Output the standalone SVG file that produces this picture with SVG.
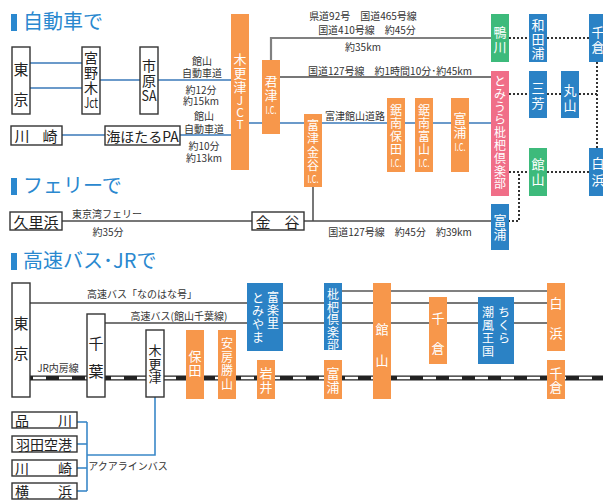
<svg xmlns="http://www.w3.org/2000/svg" width="603" height="502" viewBox="0 0 603 502">
<style>
text{font-family:"Noto Sans CJK JP","Noto Sans",sans-serif}
.box{fill:#fff;stroke:#333;stroke-width:1.4}
.or{fill:#f7974b}
.bl{fill:#2b82c5}
.gr{fill:#3dba7b}
.pk{fill:#f06e88}
.bk{fill:#222;font-size:15px;text-anchor:middle;dominant-baseline:central}
.bs{fill:#222;font-size:14px;text-anchor:middle;dominant-baseline:central}
.b13{fill:#222;font-size:13px;text-anchor:middle;dominant-baseline:central}
.wt{fill:#fff;font-size:12px;text-anchor:middle;dominant-baseline:central}
.wl{fill:#fff;font-size:13px;text-anchor:middle;dominant-baseline:central}
.ic{fill:#fff;font-size:11px;text-anchor:middle;dominant-baseline:central}
.lbl{fill:#333;font-size:10px;text-anchor:middle;dominant-baseline:central}
.hd{fill:#2a88cf;font-size:20px}
.hbar{fill:#2a88cf}
.exp{stroke:#3a78b8;stroke-width:1.6;fill:none}
.rd{stroke:#4a4a4a;stroke-width:1.5;fill:none}
.rg{stroke:#808080;stroke-width:2.2;fill:none}
.dot{stroke:#333;stroke-width:2;stroke-dasharray:2 2;fill:none}
.aq{stroke:#3a88c8;stroke-width:1.6;fill:none}
</style>

<!-- headers -->
<rect class="hbar" x="11" y="14" width="6" height="17"/>
<text class="hd" x="23" y="29">自動車で</text>
<rect class="hbar" x="11" y="178" width="6" height="17"/>
<text class="hd" x="23" y="193">フェリーで</text>
<rect class="hbar" x="11" y="253" width="6" height="17"/>
<text class="hd" x="23" y="268">高速バス･JRで</text>

<g id="connectors">
  <line class="exp" x1="30" y1="63" x2="82" y2="63"/>
  <line class="exp" x1="30" y1="88" x2="82" y2="88"/>
  <line class="exp" x1="100" y1="80" x2="140" y2="80"/>
  <line class="exp" x1="158" y1="80" x2="231" y2="80"/>
  <line class="exp" x1="62" y1="135" x2="105" y2="135"/>
  <line class="exp" x1="180" y1="135" x2="231" y2="135"/>
  <line class="exp" x1="249" y1="123" x2="491" y2="123"/>
  <polyline class="rg" points="271,60 271,38 491,38"/>
  <line class="rd" x1="280" y1="77" x2="491" y2="77"/>
  <line class="dot" x1="509" y1="38" x2="529" y2="38"/>
  <line class="dot" x1="547" y1="38" x2="589" y2="38"/>
  <line class="dot" x1="509" y1="94" x2="529" y2="94"/>
  <line class="dot" x1="547" y1="94" x2="561" y2="94"/>
  <line class="dot" x1="579" y1="94" x2="597" y2="94"/>
  <line class="dot" x1="597" y1="62" x2="597" y2="148"/>
  <line class="dot" x1="509" y1="172" x2="529" y2="172"/>
  <line class="dot" x1="547" y1="172" x2="589" y2="172"/>
  <polyline class="dot" points="509,172 519,172 519,221 509,221"/>
  <line class="rd" x1="62" y1="221" x2="252" y2="221"/>
  <line class="rd" x1="304" y1="221" x2="491" y2="221"/>
  <line class="rd" x1="313" y1="187" x2="313" y2="221"/>
  <line class="rd" x1="30" y1="303" x2="547" y2="303"/>
  <line class="rd" x1="105" y1="323" x2="547" y2="323"/>
  <line class="rg" x1="342" y1="291" x2="547" y2="291"/>
  <line x1="30" y1="378" x2="603" y2="378" stroke="#222" stroke-width="5"/>
  <line x1="30" y1="378" x2="603" y2="378" stroke="#fff" stroke-width="2.6" stroke-dasharray="13 13" stroke-dashoffset="-3"/>
  <line class="aq" x1="77" y1="422" x2="87" y2="422"/>
  <line class="aq" x1="77" y1="444" x2="87" y2="444"/>
  <line class="aq" x1="77" y1="468" x2="87" y2="468"/>
  <line class="aq" x1="77" y1="491" x2="87" y2="491"/>
  <line class="aq" x1="87" y1="422" x2="87" y2="491"/>
  <polyline class="aq" points="87,455 155,455 155,397"/>
</g>

<g id="labels">
  <text class="lbl" x="202" y="60">館山</text>
  <text class="lbl" x="202" y="72">自動車道</text>
  <text class="lbl" x="201" y="89">約12分</text>
  <text class="lbl" x="201" y="100">約15km</text>
  <text class="lbl" x="204" y="115">館山</text>
  <text class="lbl" x="204" y="128">自動車道</text>
  <text class="lbl" x="204" y="145">約10分</text>
  <text class="lbl" x="204" y="157">約13km</text>
  <text class="lbl" x="363" y="15">県道92号　国道465号線</text>
  <text class="lbl" x="367" y="29">国道410号線　約45分</text>
  <text class="lbl" x="363" y="46">約35km</text>
  <text class="lbl" x="390" y="70">国道127号線　約1時間10分･約45km</text>
  <text class="lbl" x="355" y="115">富津館山道路</text>
  <text class="lbl" x="107" y="213">東京湾フェリー</text>
  <text class="lbl" x="108" y="231">約35分</text>
  <text class="lbl" x="400" y="231">国道127号線　約45分　約39km</text>
  <text class="lbl" x="142" y="293">高速バス「なのはな号」</text>
  <text class="lbl" x="179" y="315">高速バス(館山千葉線)</text>
  <text class="lbl" x="58" y="367">JR内房線</text>
  <text class="lbl" x="128" y="465">アクアラインバス</text>
</g>

<!-- section 1 nodes -->
<g id="n-tokyo1"><rect class="box" x="12" y="47" width="18" height="67"/><text class="bk" x="21" y="68">東</text><text class="bk" x="21" y="98">京</text></g>
<g id="n-miyanogi"><rect class="box" x="82" y="47" width="18" height="67"/><text class="bs"><tspan x="91" y="57">宮</tspan><tspan x="91" y="72">野</tspan><tspan x="91" y="87">木</tspan></text><text class="bs" x="91" y="102" font-size="12" textLength="14" lengthAdjust="spacingAndGlyphs">Jct</text></g>
<g id="n-ichihara"><rect class="box" x="140" y="47" width="18" height="67"/><text class="bs"><tspan x="149" y="65">市</tspan><tspan x="149" y="80">原</tspan></text><text class="bs" x="149" y="95" textLength="15" lengthAdjust="spacingAndGlyphs">SA</text></g>
<g id="n-kawasaki1"><rect class="box" x="11" y="126" width="51" height="19"/><text class="bk" x="22" y="135.5">川</text><text class="bk" x="50" y="135.5">崎</text></g>
<g id="n-umihotaru"><rect class="box" x="105" y="126" width="75" height="19"/><text class="bs" x="142.5" y="135.5">海ほたるPA</text></g>
<g id="n-kisarazu-jct"><rect class="or" x="231" y="14" width="18" height="156"/><text class="wl"><tspan x="240" y="58">木</tspan><tspan x="240" y="72">更</tspan><tspan x="240" y="86">津</tspan></text><text class="wt"><tspan x="240" y="99">J</tspan><tspan x="240" y="111">C</tspan><tspan x="240" y="123">T</tspan></text></g>
<g id="n-kimitsu"><rect class="or" x="262" y="60" width="18" height="74"/><text class="wl"><tspan x="271" y="80">君</tspan><tspan x="271" y="94">津</tspan></text><text class="ic" x="271" y="109" textLength="11" lengthAdjust="spacingAndGlyphs">I.C.</text></g>
<g id="n-futtsu-kanaya"><rect class="or" x="304" y="114" width="18" height="73"/><text class="wt"><tspan x="313" y="124">富</tspan><tspan x="313" y="137">津</tspan><tspan x="313" y="151">金</tspan><tspan x="313" y="164">谷</tspan></text><text class="ic" x="313" y="178" textLength="11" lengthAdjust="spacingAndGlyphs">I.C.</text></g>
<g id="n-kyonan-hota"><rect class="or" x="387" y="98" width="18" height="74"/><text class="wt"><tspan x="396" y="109">鋸</tspan><tspan x="396" y="122">南</tspan><tspan x="396" y="135">保</tspan><tspan x="396" y="148">田</tspan></text><text class="ic" x="396" y="162" textLength="11" lengthAdjust="spacingAndGlyphs">I.C.</text></g>
<g id="n-kyonan-tomiyama"><rect class="or" x="415" y="98" width="18" height="74"/><text class="wt"><tspan x="424" y="109">鋸</tspan><tspan x="424" y="122">南</tspan><tspan x="424" y="135">富</tspan><tspan x="424" y="148">山</tspan></text><text class="ic" x="424" y="162" textLength="11" lengthAdjust="spacingAndGlyphs">I.C.</text></g>
<g id="n-tomiura-ic"><rect class="or" x="451" y="98" width="18" height="74"/><text class="wl"><tspan x="460" y="117">富</tspan><tspan x="460" y="131">浦</tspan></text><text class="ic" x="460" y="146" textLength="11" lengthAdjust="spacingAndGlyphs">I.C.</text></g>
<g id="n-kamogawa"><rect class="gr" x="491" y="14" width="18" height="48"/><text class="wl"><tspan x="500" y="31">鴨</tspan><tspan x="500" y="46">川</tspan></text></g>
<g id="n-wadaura"><rect class="bl" x="529" y="14" width="18" height="48"/><text class="wl"><tspan x="538" y="24">和</tspan><tspan x="538" y="38">田</tspan><tspan x="538" y="52">浦</tspan></text></g>
<g id="n-chikura1"><rect class="bl" x="589" y="14" width="18" height="48"/><text class="wl"><tspan x="598" y="31">千</tspan><tspan x="598" y="46">倉</tspan></text></g>
<g id="n-biwa1"><rect class="pk" x="491" y="71" width="18" height="125"/><text class="wt"><tspan x="500" y="80">と</tspan><tspan x="500" y="92.8">み</tspan><tspan x="500" y="105.6">う</tspan><tspan x="500" y="118.4">ら</tspan><tspan x="500" y="131.2">枇</tspan><tspan x="500" y="144">杷</tspan><tspan x="500" y="156.8">倶</tspan><tspan x="500" y="169.6">楽</tspan><tspan x="500" y="182.4">部</tspan></text></g>
<g id="n-miyoshi"><rect class="bl" x="529" y="71" width="18" height="47"/><text class="wl"><tspan x="538" y="87">三</tspan><tspan x="538" y="102">芳</tspan></text></g>
<g id="n-maruyama"><rect class="bl" x="561" y="71" width="18" height="47"/><text class="wl"><tspan x="570" y="89">丸</tspan><tspan x="570" y="104">山</tspan></text></g>
<g id="n-tateyama1"><rect class="gr" x="529" y="148" width="18" height="48"/><text class="wl"><tspan x="538" y="163">館</tspan><tspan x="538" y="178">山</tspan></text></g>
<g id="n-shirahama1"><rect class="bl" x="589" y="148" width="18" height="48"/><text class="wl"><tspan x="598" y="162">白</tspan><tspan x="598" y="179">浜</tspan></text></g>
<g id="n-tomiura1"><rect class="bl" x="491" y="204" width="18" height="46"/><text class="wl"><tspan x="500" y="219">富</tspan><tspan x="500" y="233">浦</tspan></text></g>

<!-- ferry nodes -->
<g id="n-kurihama"><rect class="box" x="10" y="212" width="52" height="18"/><text class="bk" x="36" y="221">久里浜</text></g>
<g id="n-kanaya"><rect class="box" x="252" y="212" width="52" height="18"/><text class="bk" x="263" y="221">金</text><text class="bk" x="292" y="221">谷</text></g>

<!-- section 3 nodes -->
<g id="n-tokyo2"><rect class="box" x="12" y="283" width="18" height="114"/><text class="bk" x="21" y="322">東</text><text class="bk" x="21" y="352">京</text></g>
<g id="n-chiba"><rect class="box" x="87" y="314" width="18" height="83"/><text class="bk" x="96" y="342">千</text><text class="bk" x="96" y="370">葉</text></g>
<g id="n-kisarazu"><rect class="box" x="146" y="330" width="18" height="67"/><text class="b13"><tspan x="155" y="349">木</tspan><tspan x="155" y="362.5">更</tspan><tspan x="155" y="376">津</tspan></text></g>
<g id="n-hota"><rect class="or" x="186" y="330" width="18" height="69"/><text class="wl"><tspan x="195" y="355">保</tspan><tspan x="195" y="369">田</tspan></text></g>
<g id="n-awakatsuyama"><rect class="or" x="218" y="330" width="18" height="69"/><text class="wt"><tspan x="227" y="342">安</tspan><tspan x="227" y="356">房</tspan><tspan x="227" y="369">勝</tspan><tspan x="227" y="383">山</tspan></text></g>
<g id="n-fururi"><rect class="bl" x="247" y="283" width="36" height="68"/><text class="wt"><tspan x="273" y="296">富</tspan><tspan x="273" y="309">楽</tspan><tspan x="273" y="322">里</tspan><tspan x="258" y="297">と</tspan><tspan x="258" y="310">み</tspan><tspan x="258" y="323">や</tspan><tspan x="258" y="336">ま</tspan></text></g>
<g id="n-iwai"><rect class="or" x="257" y="360" width="18" height="39"/><text class="wl"><tspan x="266" y="372">岩</tspan><tspan x="266" y="386">井</tspan></text></g>
<g id="n-biwa2"><rect class="bl" x="324" y="283" width="18" height="67"/><text class="wt"><tspan x="333" y="293">枇</tspan><tspan x="333" y="305.5">杷</tspan><tspan x="333" y="318">倶</tspan><tspan x="333" y="330.5">楽</tspan><tspan x="333" y="343">部</tspan></text></g>
<g id="n-tomiura2"><rect class="or" x="324" y="360" width="18" height="39"/><text class="wl"><tspan x="333" y="372">富</tspan><tspan x="333" y="386">浦</tspan></text></g>
<g id="n-tateyama2"><rect class="or" x="373" y="283" width="18" height="116"/><text class="wl"><tspan x="382" y="328">館</tspan><tspan x="382" y="359">山</tspan></text></g>
<g id="n-chikura2"><rect class="or" x="429" y="297" width="18" height="67"/><text class="wl"><tspan x="438" y="317">千</tspan><tspan x="438" y="347">倉</tspan></text></g>
<g id="n-chikura-shiokaze"><rect class="bl" x="478" y="297" width="36" height="67"/><text class="wt"><tspan x="504" y="311">ち</tspan><tspan x="504" y="324">く</tspan><tspan x="504" y="337">ら</tspan><tspan x="488" y="311">潮</tspan><tspan x="488" y="324">風</tspan><tspan x="488" y="337">王</tspan><tspan x="488" y="350">国</tspan></text></g>
<g id="n-shirahama2"><rect class="or" x="547" y="283" width="18" height="68"/><text class="wl"><tspan x="556" y="302">白</tspan><tspan x="556" y="332">浜</tspan></text></g>
<g id="n-chikura3"><rect class="or" x="547" y="360" width="18" height="39"/><text class="wl"><tspan x="556" y="372">千</tspan><tspan x="556" y="386">倉</tspan></text></g>

<g id="n-shinagawa"><rect class="box" x="12" y="412" width="65" height="16"/><text class="bs" x="22" y="420">品</text><text class="bs" x="65" y="420">川</text></g>
<g id="n-haneda"><rect class="box" x="12" y="436" width="65" height="16"/><text class="bs" x="44" y="444">羽田空港</text></g>
<g id="n-kawasaki2"><rect class="box" x="12" y="460" width="65" height="16"/><text class="bs" x="22" y="468">川</text><text class="bs" x="65" y="468">崎</text></g>
<g id="n-yokohama"><rect class="box" x="12" y="483" width="65" height="16"/><text class="bs" x="22" y="491">横</text><text class="bs" x="65" y="491">浜</text></g>
</svg>
